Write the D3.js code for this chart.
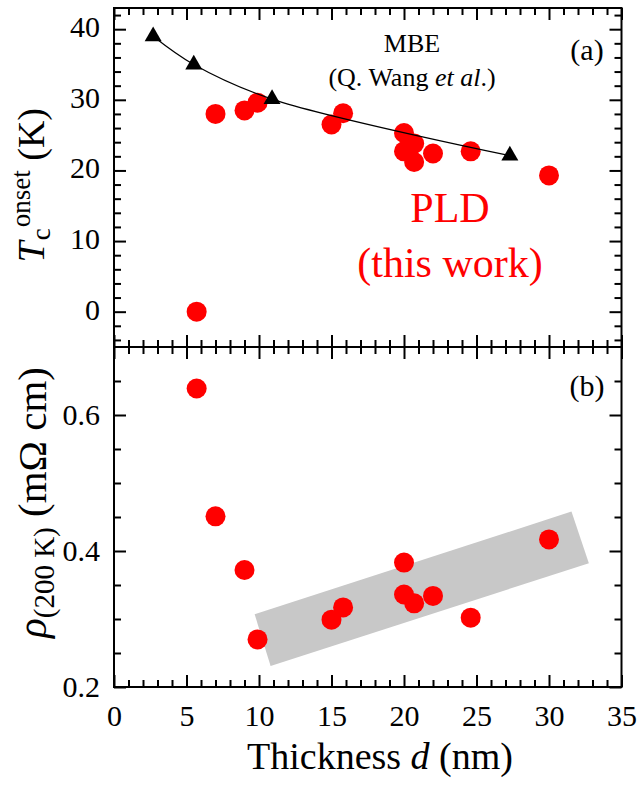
<!DOCTYPE html>
<html>
<head>
<meta charset="utf-8">
<script src="https://cdn.jsdelivr.net/npm/d3@7"></script>
<style>
  html, body { margin: 0; padding: 0; background: #fff; }
  text { font-family: "Liberation Serif", "Times New Roman", serif; }
</style>
</head>
<body>
<div id="chart"></div>
<script>
// MBE data (Q. Wang et al.)
const mbeThickness = [2.7, 5.5, 10.9, 27.3];
const mbeTc = [39.0, 35.0, 30.1, 22.1];

// PLD data, panel (a)
const pldTcThickness = [5.7, 7.0, 9.0, 9.9, 15.0, 15.8, 20.0, 20.0, 20.7, 20.7, 22.0, 24.6, 30.0];
const pldTc = [0, 28.0, 28.5, 29.6, 26.5, 28.1, 25.3, 22.7, 23.8, 21.2, 22.4, 22.7, 19.3];

// PLD data, panel (b)
const pldRhoThickness = [5.7, 7.0, 9.0, 9.9, 15.0, 15.8, 20.0, 20.0, 20.7, 22.0, 24.6, 30.0];
const pldRho = [0.639, 0.451, 0.372, 0.270, 0.299, 0.317, 0.383, 0.336, 0.323, 0.334, 0.302, 0.417];

// grey guide band corners in panel (b)
const bandThickness = [9.7, 31.55, 32.75, 10.8];
const bandRho = [0.307, 0.458, 0.382, 0.231];

// ticks
const xMajor = [0, 5, 10, 15, 20, 25, 30, 35];
const tcMajor = [0, 10, 20, 30, 40];
const rhoMajor = [0.2, 0.4, 0.6];

const W = 639, H = 793;
const left = 114, right = 621.5, topA = 8, mid = 347, botB = 687;
const serif = '"Liberation Serif", "Times New Roman", serif';

const svg = d3.select('#chart').append('svg').attr('width', W).attr('height', H);

const x = d3.scaleLinear().domain([0, 35]).range([left, right]);
const yA = d3.scaleLinear().domain([-5, 43]).range([mid, topA]);
const yB = d3.scaleLinear().domain([0.2, 0.7]).range([botB, mid]);

const xMinor = d3.range(0, 36).filter(d => d % 5 !== 0);
const tcMinor = d3.range(-4, 43, 2).filter(d => d % 10 !== 0);
const rhoMinor = [0.25, 0.3, 0.35, 0.45, 0.5, 0.55, 0.65];

function addAxis(axisFn, scale, transform, majors, minors, fmt, pad) {
  const g = svg.append('g').attr('transform', transform);
  g.append('g').call(axisFn(scale).tickValues(minors).tickSizeInner(-7).tickSizeOuter(0).tickFormat(''));
  g.append('g').call(axisFn(scale).tickValues(majors).tickSizeInner(-12).tickSizeOuter(0)
    .tickPadding(pad || 0).tickFormat(fmt || ''));
  g.selectAll('.domain').remove();
  g.selectAll('line').attr('stroke', '#000').attr('stroke-width', 2);
  g.selectAll('text').attr('font-family', serif).attr('font-size', 30).attr('fill', '#000');
  return g;
}

// panel (b) band first (behind everything)
const bandLine = d3.line().x((d, i) => x(bandThickness[i])).y((d, i) => yB(bandRho[i]));
svg.append('path')
  .attr('d', bandLine(bandThickness) + 'Z')
  .attr('fill', '#c8c8c8');

// panel (a) axes
addAxis(d3.axisTop, x, `translate(0,${topA})`, xMajor, xMinor);
addAxis(d3.axisBottom, x, `translate(0,${mid})`, xMajor, xMinor);
addAxis(d3.axisLeft, yA, `translate(${left},0)`, tcMajor, tcMinor, d => d, 14)
  .selectAll('text').attr('dy', '0.25em');
addAxis(d3.axisRight, yA, `translate(${right},0)`, tcMajor, tcMinor);

// panel (b) axes
addAxis(d3.axisTop, x, `translate(0,${mid})`, xMajor, xMinor);
addAxis(d3.axisBottom, x, `translate(0,${botB})`, xMajor, xMinor, d => d, 18);
addAxis(d3.axisLeft, yB, `translate(${left},0)`, rhoMajor, rhoMinor, d3.format('.1f'), 14)
  .selectAll('text').attr('dy', '0.32em');
addAxis(d3.axisRight, yB, `translate(${right},0)`, rhoMajor, rhoMinor);

// frames
svg.append('rect').attr('x', left).attr('y', topA).attr('width', right - left).attr('height', mid - topA)
  .attr('fill', 'none').attr('stroke', '#000').attr('stroke-width', 2);
svg.append('rect').attr('x', left).attr('y', mid).attr('width', right - left).attr('height', botB - mid)
  .attr('fill', 'none').attr('stroke', '#000').attr('stroke-width', 2);

// panel (a) PLD circles
svg.append('g').selectAll('circle')
  .data(pldTcThickness)
  .join('circle')
  .attr('cx', d => x(d))
  .attr('cy', (d, i) => yA(pldTc[i]))
  .attr('r', 10)
  .attr('fill', '#ff0000');

// MBE line and triangles
const mbeLine = d3.line()
  .x(d => x(d))
  .y((d, i) => yA(mbeTc[i]))
  .curve(d3.curveCatmullRom);
svg.append('path')
  .attr('d', mbeLine(mbeThickness))
  .attr('fill', 'none')
  .attr('stroke', '#000')
  .attr('stroke-width', 1.2);
svg.append('g').selectAll('path')
  .data(mbeThickness)
  .join('path')
  .attr('d', d3.symbol(d3.symbolTriangle, 125))
  .attr('transform', (d, i) => `translate(${x(d)},${yA(mbeTc[i])})`)
  .attr('fill', '#000');

// panel (b) PLD circles
svg.append('g').selectAll('circle')
  .data(pldRhoThickness)
  .join('circle')
  .attr('cx', d => x(d))
  .attr('cy', (d, i) => yB(pldRho[i]))
  .attr('r', 10)
  .attr('fill', '#ff0000');

// annotations
function label(txt, px, py, size, color, anchor) {
  return svg.append('text')
    .attr('x', px).attr('y', py)
    .attr('font-family', serif).attr('font-size', size)
    .attr('fill', color || '#000')
    .attr('text-anchor', anchor || 'middle')
    .text(txt);
}
label('MBE', 412, 52, 26);
const wang = svg.append('text').attr('x', 412).attr('y', 86)
  .attr('font-family', serif).attr('font-size', 26).attr('text-anchor', 'middle');
wang.append('tspan').text('(Q. Wang ');
wang.append('tspan').attr('font-style', 'italic').text('et al');
wang.append('tspan').text('.)');
label('(a)', 587, 60, 30);
label('(b)', 587, 396, 30);
label('PLD', 450, 222, 42, '#ff0000');
label('(this work)', 450, 277, 42, '#ff0000');

// x axis title
const xt = svg.append('text').attr('x', 380).attr('y', 769)
  .attr('font-family', serif).attr('font-size', 38).attr('text-anchor', 'middle');
xt.append('tspan').text('Thickness ');
xt.append('tspan').attr('font-style', 'italic').text('d');
xt.append('tspan').text(' (nm)');

// rotated y titles built from pieces laid end to end
function yTitle(pieces, bx, endY) {
  const g = svg.append('g');
  let pos = 0;
  pieces.forEach(p => {
    const t = g.append('text')
      .attr('font-family', serif).attr('font-size', p.size)
      .attr('font-style', p.italic ? 'italic' : 'normal')
      .attr('y', p.shift || 0)
      .attr('x', pos + (p.dx || 0))
      .text(p.t);
    pos += t.node().getComputedTextLength() + (p.dx || 0);
  });
  g.attr('transform', `translate(${bx},${endY + pos}) rotate(-90)`);
}
yTitle([
  { t: 'T', size: 38, italic: true },
  { t: 'c', size: 27, shift: 6, dx: 1 },
  { t: 'onset', size: 27, shift: -14, dx: 1 },
  { t: '\u00a0(K)', size: 38 }
], 44, 108);
yTitle([
  { t: '\u03c1', size: 41, italic: true },
  { t: '(200\u00a0K)', size: 29, shift: 8 },
  { t: '\u00a0(m\u03a9 cm)', size: 41 }
], 46, 367);
</script>
</body>
</html>
